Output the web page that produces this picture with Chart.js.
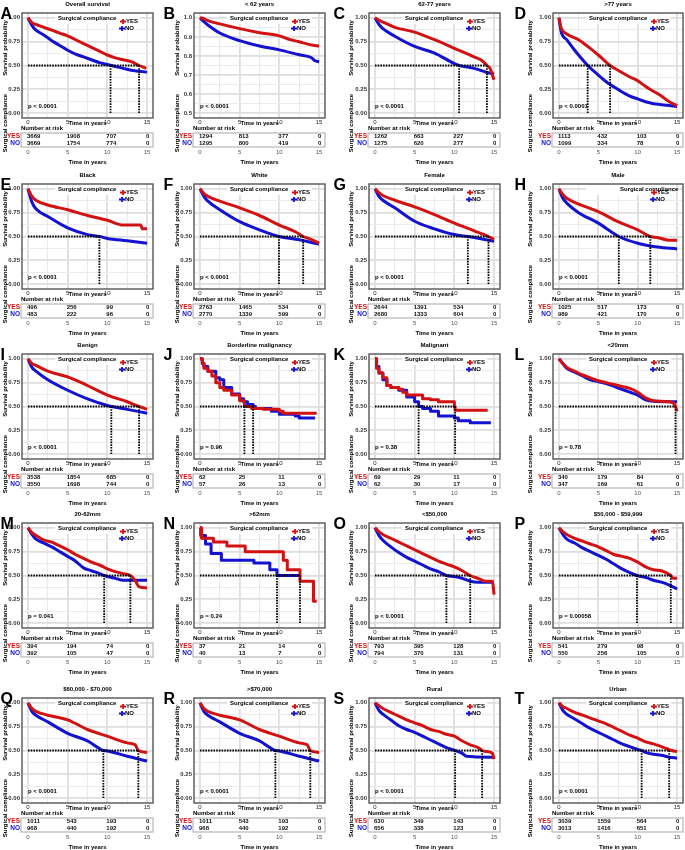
<!DOCTYPE html>
<html>
<head>
<meta charset="utf-8">
<script src="https://cdn.jsdelivr.net/npm/chart.js@4"></script>
<style>
  body { margin: 0; background: #fff; width: 685px; height: 850px; overflow: hidden; position: relative; }
  canvas { position: absolute; }
</style>
</head>
<body>
<script>
// ---- data: [time in years, survival probability] ----
const yesA = [[0,1],[0.5,0.95],[1,0.93],[2,0.9],[3,0.87],[4,0.84],[5,0.81],[6,0.77],[7,0.73],[8,0.69],[9,0.65],[10,0.61],[11,0.58],[12,0.56],[13,0.54],[14,0.5],[14.9,0.47]];
const noA = [[0,1],[0.5,0.92],[1,0.87],[2,0.82],[3,0.76],[4,0.71],[5,0.66],[6,0.62],[7,0.59],[8,0.56],[9,0.53],[10,0.51],[11,0.49],[12,0.47],[13,0.45],[14,0.44],[15,0.43]];
const yesB = [[0,1],[0.5,0.995],[1,0.985],[2.5,0.968],[5,0.943],[7.5,0.922],[10,0.905],[11,0.89],[12.5,0.874],[14,0.858],[15,0.852]];
const noB = [[0,1],[0.5,0.98],[1,0.962],[2.5,0.92],[5,0.88],[7.5,0.852],[10,0.832],[12.5,0.806],[14,0.792],[14.5,0.775],[15,0.77]];
const yesC = [[0,1],[0.5,0.975],[1,0.955],[2.5,0.9],[5,0.85],[7.5,0.77],[10,0.68],[12.5,0.59],[13.5,0.55],[14.1,0.5],[14.5,0.47],[15,0.35]];
const noC = [[0,1],[0.5,0.93],[1,0.886],[2.5,0.807],[5,0.7],[7.5,0.63],[10,0.52],[10.6,0.5],[12.5,0.47],[14,0.43],[15,0.41]];
const yesD = [[0,1],[0.3,0.89],[1,0.83],[2.5,0.77],[3.65,0.7],[5,0.61],[6.5,0.5],[7.5,0.45],[9,0.38],[10,0.34],[11,0.28],[12,0.23],[13,0.18],[14,0.12],[15,0.08]];
const noD = [[0,1],[0.3,0.85],[1,0.77],[2,0.66],[3,0.56],[3.65,0.5],[5,0.4],[6,0.33],[7.5,0.25],[9,0.18],[10,0.15],[11,0.12],[12,0.1],[13,0.09],[14,0.08],[15,0.07]];
const yesE = [[0,1],[0.5,0.92],[1,0.88],[2.5,0.83],[5,0.78],[7.5,0.72],[10,0.67],[12,0.62],[14.2,0.62],[14.4,0.58],[15,0.58]];
const noE = [[0,1],[0.5,0.86],[1,0.79],[2.5,0.71],[5,0.59],[7.5,0.52],[9,0.5],[10,0.48],[12.5,0.455],[15,0.43]];
const yesF = [[0,1],[0.5,0.95],[1,0.92],[2.5,0.87],[5,0.8],[7.5,0.72],[10,0.62],[12,0.55],[13,0.5],[14,0.47],[15,0.43]];
const noF = [[0,1],[0.5,0.92],[1,0.87],[2.5,0.78],[5,0.655],[7.5,0.57],[9.95,0.5],[12.5,0.465],[15,0.42]];
const yesG = [[0,1],[0.5,0.96],[1,0.93],[2.5,0.88],[5,0.81],[7.5,0.73],[10,0.64],[12.5,0.56],[14.3,0.5],[15,0.47]];
const noG = [[0,1],[0.5,0.92],[1,0.88],[2.5,0.8],[5,0.66],[7.5,0.58],[10,0.52],[11.7,0.5],[12.5,0.49],[15,0.45]];
const yesH = [[0,1],[0.5,0.94],[1,0.9],[2.5,0.84],[5,0.76],[7.5,0.655],[10,0.57],[11.6,0.5],[12.5,0.49],[14,0.46],[15,0.46]];
const noH = [[0,1],[0.5,0.9],[1,0.85],[2.5,0.75],[5,0.64],[7.6,0.5],[10,0.43],[12.5,0.39],[15,0.37]];
const yesI = [[0,1],[0.5,0.95],[1,0.93],[2.5,0.87],[5,0.81],[7.5,0.72],[10,0.62],[12.5,0.55],[14,0.5],[15,0.47]];
const noI = [[0,1],[0.5,0.91],[1,0.87],[2.5,0.78],[5,0.67],[7.5,0.58],[10,0.51],[10.5,0.5],[12.5,0.47],[15,0.43]];
const yesJ = [[0,1],[0.3,0.95],[0.5,0.9],[1,0.87],[1.5,0.82],[2,0.75],[2.5,0.7],[3,0.67],[4,0.62],[5,0.56],[5.6,0.5],[6.5,0.48],[8,0.47],[10,0.45],[10.5,0.43],[14.7,0.43]];
const noJ = [[0,1],[0.3,0.95],[0.5,0.92],[1,0.87],[2,0.8],[2.5,0.78],[3,0.7],[4,0.63],[5,0.58],[5.5,0.55],[6,0.52],[6.7,0.5],[7,0.48],[9,0.45],[10,0.42],[12,0.4],[12.5,0.38],[14.5,0.38]];
const yesK = [[0,1],[0.2,0.9],[0.5,0.85],[1,0.8],[1.5,0.72],[2,0.7],[3,0.68],[3.5,0.65],[4,0.62],[6,0.58],[7,0.57],[8,0.55],[10,0.5],[10.1,0.46],[14.2,0.46]];
const noK = [[0,1],[0.2,0.92],[0.5,0.85],[1,0.78],[1.5,0.72],[2,0.7],[3,0.67],[4,0.6],[5,0.55],[5.5,0.5],[6,0.48],[7,0.45],[8,0.4],[10,0.38],[10.5,0.35],[12,0.33],[14.6,0.33]];
const yesL = [[0,1],[0.5,0.95],[1,0.91],[2,0.87],[3,0.83],[4,0.8],[5,0.77],[6,0.75],[7,0.73],[8,0.71],[9,0.69],[10,0.65],[11,0.59],[12,0.56],[14,0.55],[14.7,0.52],[15,0.45]];
const noL = [[0,1],[0.5,0.95],[1,0.9],[2,0.86],[3,0.82],[4,0.78],[5,0.76],[6,0.74],[7,0.71],[8,0.68],[9,0.65],[10,0.62],[11,0.57],[12,0.555],[15,0.55]];
const yesM = [[0,1],[0.5,0.95],[1,0.92],[2,0.87],[3,0.85],[4,0.81],[5,0.77],[6,0.72],[7,0.68],[8,0.64],[9,0.61],[10,0.57],[11,0.54],[12,0.52],[12.9,0.5],[13.5,0.45],[14,0.38],[15,0.37]];
const noM = [[0,1],[0.5,0.93],[1,0.88],[2,0.84],[3,0.8],[4,0.75],[5,0.7],[6,0.65],[7,0.58],[8,0.55],[9,0.52],[9.6,0.5],[10,0.49],[11,0.47],[12,0.45],[15,0.45]];
const yesN = [[0,1],[0.2,0.89],[1.7,0.85],[3.4,0.81],[5.7,0.75],[10.5,0.66],[11,0.56],[12.6,0.44],[14.3,0.23],[14.7,0.23]];
const noN = [[0,1],[0.1,0.92],[0.7,0.83],[1.4,0.73],[2.7,0.66],[6.8,0.63],[8.8,0.56],[9.7,0.5],[12.5,0.5]];
const yesO = [[0,1],[0.5,0.96],[1,0.93],[2,0.89],[3,0.85],[4,0.81],[5,0.77],[6,0.73],[7,0.69],[8,0.65],[9,0.62],[10,0.59],[11,0.55],[12,0.5],[13,0.47],[14,0.44],[14.8,0.44],[15,0.3]];
const noO = [[0,1],[0.5,0.92],[1,0.87],[2,0.8],[3,0.74],[4,0.69],[5,0.65],[6,0.61],[7,0.57],[8,0.54],[9,0.5],[10,0.49],[11,0.47],[12,0.44],[13,0.43],[15,0.43]];
const yesP = [[0,1],[0.5,0.96],[1,0.93],[2,0.89],[3,0.86],[4,0.83],[5,0.8],[6,0.76],[7,0.72],[8,0.7],[9,0.68],[10,0.64],[11,0.59],[12,0.56],[13,0.55],[14.2,0.5],[14.5,0.47],[15,0.47]];
const noP = [[0,1],[0.5,0.93],[1,0.88],[2,0.84],[3,0.79],[4,0.75],[5,0.71],[6,0.67],[7,0.62],[8,0.57],[9,0.53],[9.9,0.5],[11,0.48],[12,0.45],[13,0.43],[14,0.4],[15,0.36]];
const yesQ = [[0,1],[0.5,0.94],[1,0.91],[2.5,0.87],[5,0.82],[7.5,0.72],[10,0.65],[12.5,0.58],[13.5,0.56],[13.9,0.5],[15,0.48]];
const noQ = [[0,1],[0.5,0.91],[1,0.87],[2.5,0.8],[5,0.68],[7.5,0.6],[9.5,0.5],[10,0.495],[12.5,0.44],[15,0.39]];
const yesR = [[0,1],[0.5,0.94],[1,0.91],[2.5,0.87],[5,0.82],[7.5,0.72],[10,0.65],[12.5,0.58],[13.5,0.56],[13.9,0.5],[15,0.48]];
const noR = [[0,1],[0.5,0.91],[1,0.87],[2.5,0.8],[5,0.68],[7.5,0.6],[9.5,0.5],[10,0.495],[12.5,0.44],[15,0.39]];
const yesS = [[0,1],[0.5,0.97],[1,0.94],[2,0.9],[3,0.86],[4,0.82],[5,0.79],[6,0.76],[7,0.72],[8,0.7],[9,0.67],[10,0.65],[11,0.6],[12,0.56],[13,0.53],[13.5,0.5],[14,0.49],[14.8,0.47],[15,0.41]];
const noS = [[0,1],[0.5,0.92],[1,0.88],[2,0.82],[3,0.76],[4,0.72],[5,0.69],[6,0.65],[7,0.61],[8,0.57],[9,0.53],[10.1,0.5],[11,0.47],[11.5,0.44],[15,0.43]];
const yesT = [[0,1],[0.5,0.96],[1,0.94],[2,0.9],[3,0.87],[4,0.84],[5,0.81],[6,0.78],[7,0.74],[8,0.7],[9,0.66],[10,0.63],[11,0.59],[12,0.57],[13,0.54],[14,0.51],[14.3,0.5],[15,0.49]];
const noT = [[0,1],[0.5,0.92],[1,0.88],[2,0.83],[3,0.78],[4,0.73],[5,0.69],[6,0.65],[7,0.61],[8,0.57],[9,0.54],[10,0.51],[10.5,0.5],[11,0.48],[12,0.46],[13,0.45],[14,0.43],[15,0.42]];

// median survival times (dotted lines)
const medians = [[10.4,14.0],[],[10.6,14.1],[3.65,6.5],[9.0],[9.95,13.0],[11.7,14.3],[7.6,11.6],[10.5,14.0],[5.6,6.7],
  [5.5,10.1],[14.8],[9.6,12.9],[9.7,12.6],[9.0,12.0],[9.9,14.2],[9.5,13.9],[9.5,13.9],[10.1,13.5],[10.5,14.0]];

// number at risk at 0, 5, 10, 15 years
const riskYes = [[3669,1908,707,0],[1294,813,377,0],[1262,663,227,0],[1113,432,103,0],[496,256,99,0],[2763,1465,534,0],
  [2644,1391,534,0],[1025,517,173,0],[3538,1854,685,0],[62,25,11,0],[69,29,11,0],[340,179,84,0],[394,194,74,0],
  [37,21,14,0],[793,395,128,0],[541,279,98,0],[1011,543,193,0],[1011,543,193,0],[630,349,143,0],[3039,1559,564,0]];
const riskNo = [[3669,1754,774,0],[1295,800,419,0],[1275,620,277,0],[1099,334,78,0],[483,222,96,0],[2770,1339,599,0],
  [2680,1333,604,0],[989,421,170,0],[3550,1698,744,0],[57,26,13,0],[62,30,17,0],[347,169,61,0],[392,105,47,0],
  [40,13,7,0],[794,370,131,0],[550,256,105,0],[968,440,192,0],[968,440,192,0],[656,338,123,0],[3013,1416,651,0]];

const letters = ['A','B','C','D','E','F','G','H','I','J','K','L','M','N','O','P','Q','R','S','T'];
const titles = ['Overall survival','< 62 years','62-77 years','>77 years','Black','White','Female','Male','Benign',
  'Borderline malignancy','Malignant','<20mm','20-62mm','>62mm','<$50,000','$50,000 - $59,999','$60,000 - $70,000',
  '>$70,000','Rural','Urban'];
const pValues = ['p < 0.0001','p < 0.0001','p < 0.0001','p < 0.0001','p < 0.0001','p < 0.0001','p < 0.0001','p < 0.0001',
  'p < 0.0001','p = 0.96','p = 0.38','p = 0.78','p = 0.041','p = 0.24','p < 0.0001','p = 0.00058','p < 0.0001',
  'p < 0.0001','p < 0.0001','p < 0.0001'];
const yesCurves = [yesA,yesB,yesC,yesD,yesE,yesF,yesG,yesH,yesI,yesJ,yesK,yesL,yesM,yesN,yesO,yesP,yesQ,yesR,yesS,yesT];
const noCurves = [noA,noB,noC,noD,noE,noF,noG,noH,noI,noJ,noK,noL,noM,noN,noO,noP,noQ,noR,noS,noT];
const steppedPanels = ['J','K','N'];

const xTicks = [0, 2.5, 5, 7.5, 10, 12.5, 15];
const yTicks = [0, 0.125, 0.25, 0.375, 0.5, 0.625, 0.75, 0.875, 1];
const yTicksB = [0.5, 0.55, 0.6, 0.65, 0.7, 0.75, 0.8, 0.85, 0.9, 0.95, 1];
const riskTimes = [0, 5, 10, 15];

// ---- layout ----
const cols = [
  {left: 0, plotL: 22, plotR: 153, right: 163, yt: -16.5},
  {left: 163, plotL: 194, plotR: 325, right: 335, yt: -16.5},
  {left: 333, plotL: 369, plotR: 500, right: 510, yt: -18},
  {left: 514, plotL: 553, plotR: 683, right: 685, yt: -23}
];
const rows = [0, 171, 341, 510, 685];
const RED = '#d21212';
const BLUE = '#1212d0';
const FONT = '"Liberation Sans", Arial, sans-serif';

const toXY = arr => arr.map(p => ({x: p[0], y: p[1]}));

function vText(ctx, s, x, y) {
  ctx.save();
  ctx.translate(x, y);
  ctx.rotate(-Math.PI / 2);
  ctx.fillText(s, 0, 0);
  ctx.restore();
}

function legendKey(ctx, x, y, color) {
  ctx.strokeStyle = color;
  ctx.lineWidth = 1.8;
  ctx.beginPath();
  ctx.moveTo(x - 3, y); ctx.lineTo(x + 3, y);
  ctx.moveTo(x, y - 2.5); ctx.lineTo(x, y + 2.5);
  ctx.stroke();
}

const kmPlugin = {
  id: 'km',
  afterDraw(chart, args, opts) {
    const i = opts.idx;
    const ctx = chart.ctx, a = chart.chartArea, xs = chart.scales.x;
    const col = cols[i % 4];
    const cx = (a.left + a.right) / 2;
    ctx.save();
    // panel border
    ctx.strokeStyle = '#555';
    ctx.lineWidth = 1.4;
    ctx.strokeRect(a.left, a.top, a.right - a.left, a.bottom - a.top);

    ctx.fillStyle = '#000';
    // panel letter
    ctx.font = 'bold 16px ' + FONT;
    ctx.textAlign = 'left';
    ctx.textBaseline = 'alphabetic';
    ctx.fillText(letters[i], 0.5, 18.5);
    ctx.textBaseline = 'middle';

    ctx.font = 'bold 6px ' + FONT;
    ctx.textAlign = 'center';
    ctx.fillText(titles[i], cx, a.top - 8.5);
    ctx.fillText('Time in years', cx, a.top + 110.5);
    vText(ctx, 'Survival probability', a.left + col.yt, a.top + 35);
    vText(ctx, 'Surgical compliance', a.left + col.yt, a.top + 110);

    // legend
    const shift = letters[i] === 'H' ? 31 : 0;
    ctx.fillStyle = '#fff';
    ctx.fillRect(a.left + 33, a.top + 1, 85, 10);
    ctx.fillStyle = '#000';
    ctx.textAlign = 'left';
    ctx.fillText('Surgical compliance', a.left + 36 + shift, a.top + 5.5);
    legendKey(ctx, a.left + 101, a.top + 8.5, RED);
    legendKey(ctx, a.left + 100, a.top + 15.5, BLUE);
    ctx.fillStyle = '#000';
    ctx.fillText('YES', a.left + 104, a.top + 8.5);
    ctx.fillText('NO', a.left + 103, a.top + 15.5);

    // p value
    ctx.fillText(pValues[i], a.left + 6, a.top + 93);

    // risk table
    ctx.fillText('Number at risk', a.left - 1, a.top + 115);
    ctx.strokeStyle = '#a8a8a8';
    ctx.lineWidth = 1;
    ctx.strokeRect(a.left - 1, a.top + 120, a.right - a.left + 1, 14);
    ctx.font = 'bold 6.5px ' + FONT;
    ctx.textAlign = 'right';
    ctx.fillStyle = RED;
    ctx.fillText('YES', a.left - 2, a.top + 123.5);
    ctx.fillStyle = BLUE;
    ctx.fillText('NO', a.left - 2, a.top + 130.5);
    ctx.font = 'bold 6px ' + FONT;
    ctx.textAlign = 'left';
    ctx.fillStyle = '#111';
    riskTimes.forEach((t, k) => {
      const px = xs.getPixelForValue(t) - 1;
      ctx.fillText(String(riskYes[i][k]), px, a.top + 123.5);
      ctx.fillText(String(riskNo[i][k]), px, a.top + 130.5);
    });
    ctx.font = '6px ' + FONT;
    ctx.textAlign = 'center';
    ctx.fillStyle = '#555';
    riskTimes.forEach(t => ctx.fillText(String(t), xs.getPixelForValue(t), a.top + 139.5));
    ctx.font = 'bold 6px ' + FONT;
    ctx.fillStyle = '#000';
    ctx.fillText('Time in years', cx, a.top + 149);
    ctx.restore();
  }
};

const gridColor = c => (c.tick && c.tick.label !== '' ? '#dedede' : '#ebebeb');
const gridWidth = c => (c.tick && c.tick.label !== '' ? 1.8 : 1);

letters.forEach((letter, i) => {
  const col = cols[i % 4];
  const top = rows[Math.floor(i / 4)];
  const w = col.right - col.left;
  const cv = document.createElement('canvas');
  cv.width = w;
  cv.height = 170;
  cv.style.left = col.left + 'px';
  cv.style.top = top + 'px';
  document.body.appendChild(cv);

  const isB = letter === 'B';
  const yT = isB ? yTicksB : yTicks;
  const stepped = steppedPanels.includes(letter);
  const yBase = isB ? 0.5 : 0;

  const datasets = [];
  const meds = medians[i];
  if (meds.length) {
    const dotted = pts => ({
      data: toXY(pts), borderColor: '#000', borderWidth: 1.8, borderDash: [1.6, 1.1],
      pointRadius: 0, tension: 0
    });
    datasets.push(dotted([[0, 0.5], [Math.max(...meds), 0.5]]));
    meds.forEach(m => datasets.push(dotted([[m, 0.5], [m, yBase]])));
  }
  datasets.push({
    data: toXY(yesCurves[i]), borderColor: RED, borderWidth: 3, pointRadius: 0,
    stepped: stepped, cubicInterpolationMode: 'monotone', borderJoinStyle: 'round'
  });
  datasets.push({
    data: toXY(noCurves[i]), borderColor: BLUE, borderWidth: 3, pointRadius: 0,
    stepped: stepped, cubicInterpolationMode: 'monotone', borderJoinStyle: 'round'
  });

  new Chart(cv, {
    type: 'line',
    data: {datasets},
    plugins: [kmPlugin],
    options: {
      responsive: false,
      animation: false,
      devicePixelRatio: 1,
      layout: {padding: {top: 13, left: 0, right: col.right - col.plotR, bottom: 0}},
      plugins: {legend: {display: false}, tooltip: {enabled: false}, km: {idx: i}},
      scales: {
        x: {
          type: 'linear', min: -0.75, max: 15.75,
          afterBuildTicks: s => { s.ticks = xTicks.map(v => ({value: v})); },
          afterFit: s => { s.height = 52; },
          ticks: {
            autoSkip: false, maxRotation: 0, padding: 1, color: '#222',
            font: {family: FONT, size: 6},
            callback: v => (v % 5 === 0 ? String(v) : '')
          },
          grid: {color: gridColor, lineWidth: gridWidth, drawTicks: false},
          border: {display: false}
        },
        y: {
          type: 'linear',
          min: isB ? 0.475 : -0.05,
          max: isB ? 1.025 : 1.05,
          afterBuildTicks: s => { s.ticks = yT.map(v => ({value: v})); },
          afterFit: s => { s.width = col.plotL - col.left; },
          ticks: {
            autoSkip: false, padding: 2, color: '#333',
            font: {family: FONT, size: 6, weight: 'bold'},
            callback: v => isB
              ? (Math.round(v * 100) % 10 === 0 ? v.toFixed(1) : '')
              : (Math.round(v * 1000) % 250 === 0 ? v.toFixed(2) : '')
          },
          grid: {color: gridColor, lineWidth: gridWidth, drawTicks: false},
          border: {display: false}
        }
      }
    }
  });
});
</script>
</body>
</html>
